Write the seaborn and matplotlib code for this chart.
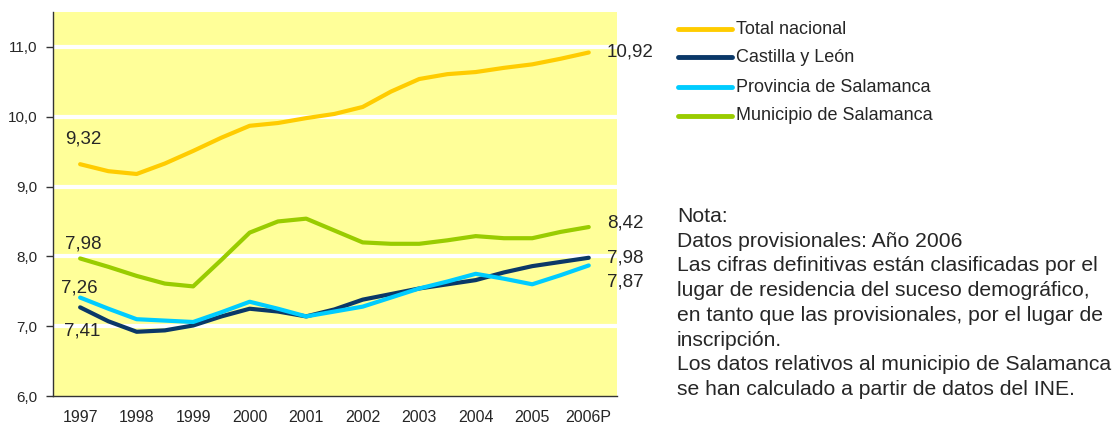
import matplotlib
matplotlib.use('Agg')
from matplotlib import pyplot as plt
from matplotlib import font_manager
import pandas as pd
import seaborn as sns

# half-year points, 1997 .. 2006P
periods = [0, 0.5, 1, 1.5, 2, 2.5, 3, 3.5, 4, 4.5, 5, 5.5, 6, 6.5, 7, 7.5, 8, 8.5, 9]
years = ['1997', '1998', '1999', '2000', '2001', '2002', '2003', '2004', '2005', '2006P']

total_nacional = [9.32, 9.22, 9.18, 9.33, 9.51, 9.70, 9.87, 9.91, 9.98, 10.04,
                  10.14, 10.36, 10.54, 10.61, 10.64, 10.70, 10.75, 10.83, 10.92]
castilla_leon = [7.27, 7.07, 6.92, 6.94, 7.01, 7.14, 7.25, 7.21, 7.14, 7.24,
                 7.38, 7.46, 7.54, 7.60, 7.66, 7.77, 7.86, 7.92, 7.98]
provincia = [7.41, 7.25, 7.10, 7.08, 7.06, 7.20, 7.35, 7.25, 7.14, 7.21,
             7.28, 7.41, 7.54, 7.64, 7.75, 7.68, 7.60, 7.73, 7.87]
municipio = [7.97, 7.85, 7.72, 7.61, 7.57, 7.95, 8.34, 8.50, 8.54, 8.37,
             8.20, 8.18, 8.18, 8.23, 8.29, 8.26, 8.26, 8.35, 8.42]

series_names = ['Total nacional', 'Castilla y León', 'Provincia de Salamanca', 'Municipio de Salamanca']
colors = ['#FFCC00', '#0A3868', '#00CCFF', '#99CC00']

# labels shown in the picture: (text, x, y)
left_labels = [('9,32', 0.05, 9.68), ('7,98', 0.05, 8.18), ('7,26', -0.02, 7.55), ('7,41', 0.04, 6.93)]
right_labels = [('10,92', 9.32, 10.92), ('8,42', 9.32, 8.48), ('7,98', 9.32, 7.98), ('7,87', 9.32, 7.63)]

nota = ('Nota:\n'
        'Datos provisionales: Año 2006\n'
        'Las cifras definitivas están clasificadas por el\n'
        'lugar de residencia del suceso demográfico,\n'
        'en tanto que las provisionales, por el lugar de\n'
        'inscripción.\n'
        'Los datos relativos al municipio de Salamanca\n'
        'se han calculado a partir de datos del INE.')

rows = []
for name, values in zip(series_names, [total_nacional, castilla_leon, provincia, municipio]):
    for p, v in zip(periods, values):
        rows.append({'periodo': p, 'valor': v, 'serie': name})
df = pd.DataFrame(rows)

sns.set_style('white')
plt.rcParams['font.family'] = ['Liberation Sans', 'DejaVu Sans']

# narrow font for the value labels, if there is one
try:
    font_manager.findfont(font_manager.FontProperties(family='Liberation Sans Narrow'),
                          fallback_to_default=False)
    label_font = {'family': ['Liberation Sans Narrow', 'Liberation Sans'], 'size': 17}
except ValueError:
    label_font = {'family': ['Liberation Sans', 'DejaVu Sans'], 'size': 13.5}

fig = plt.figure(figsize=(11.17, 4.25), dpi=100)
ax = fig.add_axes([53 / 1117, 29 / 425, 564 / 1117, 384 / 425])
ax.set_facecolor('#FFFF99')

sns.lineplot(data=df, x='periodo', y='valor', hue='serie', hue_order=series_names,
             palette=colors, linewidth=3, legend=False, ax=ax, zorder=3)

# white grid lines
ax.set_ylim(6.0, 11.5)
ax.set_yticks([6, 7, 8, 9, 10, 11])
ax.set_yticklabels(['6,0', '7,0', '8,0', '9,0', '10,0', '11,0'], fontsize=11)
for v in [7, 8, 9, 10, 11]:
    ax.axhline(v, color='white', linewidth=3, zorder=1)

# category axis: labels centred, tick marks between categories
ax.set_xlim(-0.48, 9.5)
ax.set_xticks(range(len(years)))
ax.set_xticklabels(years, fontsize=11.5)
ax.set_xticks([k - 0.5 for k in range(1, len(years) + 1)], minor=True)
ax.tick_params(axis='x', which='major', length=0, pad=10)
ax.tick_params(axis='x', which='minor', length=5, width=1, color='#333333', direction='out')
ax.tick_params(axis='y', length=5, width=1, color='#333333', direction='out', left=True, pad=6)
ax.set_xlabel('')
ax.set_ylabel('')

for side in ['top', 'right']:
    ax.spines[side].set_visible(False)
for side in ['left', 'bottom']:
    ax.spines[side].set_color('#333333')
    ax.spines[side].set_linewidth(1)

for txt, x, y in left_labels:
    ax.text(x, y, txt, fontdict=label_font, ha='center', va='center')
for txt, x, y in right_labels:
    ax.text(x, y, txt, fontdict=label_font, ha='left', va='center', clip_on=False)

# legend drawn in figure space
legend_y = [29, 57, 87, 116]
for name, col, y in zip(series_names, colors, legend_y):
    fy = 1 - y / 425
    fig.add_artist(plt.Line2D([678 / 1117, 732 / 1117], [fy, fy], color=col, linewidth=3.5))
    fig.text(736 / 1117, fy, name, fontsize=13, va='center', ha='left')

fig.text(677 / 1117, 1 - 207 / 425, nota, fontsize=15.2, va='top', ha='left', linespacing=1.38)

fig.savefig('out.png', dpi=100)
